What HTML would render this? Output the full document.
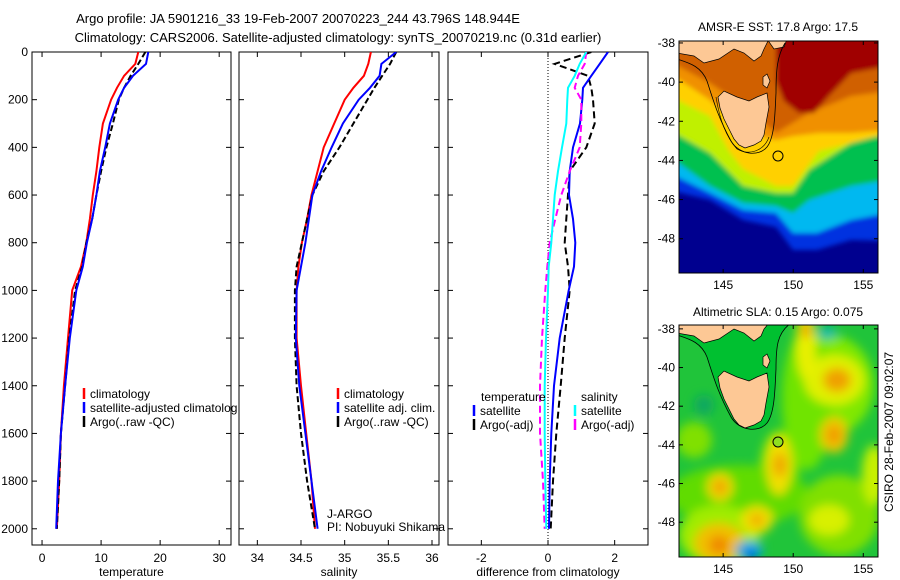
<!DOCTYPE html>
<html><head><meta charset="utf-8">
<style>
html,body{margin:0;padding:0;background:#fff;}
svg{display:block;font-family:"Liberation Sans",sans-serif;}
text{font-size:12px;fill:#000;}
</style></head>
<body>
<svg id="fig" width="900" height="580" viewBox="0 0 900 580" xmlns="http://www.w3.org/2000/svg">
<defs>
  <clipPath id="clip1"><rect x="32" y="52" width="205" height="494"/></clipPath>
  <clipPath id="clipP1"><rect x="32" y="52" width="199" height="493"/></clipPath>
  <clipPath id="clipP2"><rect x="239" y="52" width="200" height="493"/></clipPath>
  <clipPath id="clipP2t"><rect x="239" y="52" width="208" height="493"/></clipPath>
  <clipPath id="clipP3"><rect x="448" y="52" width="200" height="493"/></clipPath>
  <clipPath id="clipM"><rect x="0" y="0" width="199" height="232"/></clipPath>
  <filter id="blur3" x="-10%" y="-10%" width="120%" height="120%"><feGaussianBlur stdDeviation="2.5"/></filter>
  <filter id="blur6" x="-50%" y="-50%" width="200%" height="200%"><feGaussianBlur stdDeviation="5"/></filter>
</defs>

<text x="298" y="23" text-anchor="middle" style="font-size:13px">Argo profile: JA 5901216_33 19-Feb-2007 20070223_244 43.796S 148.944E</text>
<text x="338" y="42" text-anchor="middle" style="font-size:13px">Climatology: CARS2006. Satellite-adjusted climatology: synTS_20070219.nc (0.31d earlier)</text>

<g id="p1"></g>
<g id="p2"></g>
<g id="p3"></g>

<!-- Map 1 : SST -->
<text x="778" y="31" text-anchor="middle">AMSR-E SST: 17.8 Argo: 17.5</text>
<g transform="translate(679,41)">
 <g clip-path="url(#clipM)">
  <rect x="0" y="0" width="199" height="232" fill="#00008f"/>
  <g filter="url(#blur3)">
   <polygon fill="#0030e0" points="-10,-10 210,-10 210,200 172,199 138,209 114,209 97,186 64,179 31,159 -10,149"/>
   <polygon fill="#00b8f0" points="-10,-10 210,-10 210,172 172,179 138,192 114,192 97,172 64,169 31,152 -10,132"/>
   <polygon fill="#00c050" points="-10,-10 210,-10 210,139 172,145 130,159 114,172 97,165 64,162 31,145 -10,115"/>
   <polygon fill="#c0f000" points="-10,-10 210,-10 210,92 172,102 130,129 114,152 97,152 64,145 31,112 -10,89"/>
   <polygon fill="#ffd000" points="-10,-10 210,-10 210,92 172,102 140,110 114,145 97,145 64,128 50,110 31,75 -10,55"/>
   <polygon fill="#f09000" points="-10,-10 210,-10 210,89 172,92 140,92 114,95 97,99 64,90 31,59 -10,32"/>
   <polygon fill="#d06000" points="-10,-10 210,-10 210,50 172,55 130,72 97,92 64,65 31,42 -10,20"/>
   <polygon fill="#a00000" points="97,-10 210,-10 210,25 172,32 150,55 135,72 120,72 105,60 97,40"/>
  </g>
  <polygon fill="#fdc895" stroke="#000" stroke-width="0.7" points="-2,-2 -2,12 15,15 25,22 40,18 55,8 65,12 75,20 82,15 85,8 90,-2"/>
  <polygon fill="#fdc895" stroke="#000" stroke-width="0.7" points="88,-2 108,-2 105,6 95,8"/>
  <polygon fill="#fdc895" stroke="#000" stroke-width="0.7" points="39,56 45,50 58,56 70,60 78,56 88,52 90,66 87,82 85,94 82,100 75,104 66,107 60,104 55,98 50,88 45,78 41,67"/>
  <polygon fill="#fdc895" stroke="#000" stroke-width="0.7" points="84,36 88,33 91,40 88,47 84,44"/>
  <path d="M-2,18 C10,22 22,25 28,40 C35,62 40,78 52,100 C60,114 80,116 88,106 C96,96 96,70 97,52 C97,30 98,15 106,2" fill="none" stroke="#000" stroke-width="0.8"/>
  <path d="M37,56 C40,75 46,95 58,108 C70,115 85,110 90,96" fill="none" stroke="#000" stroke-width="0.6"/>
  <circle cx="99" cy="115" r="5" fill="none" stroke="#000" stroke-width="1"/>
 </g>
 <rect x="0" y="0" width="199" height="232" fill="none" stroke="#000" stroke-width="1"/>
 <g id="m1ticks"></g>
</g>

<!-- Map 2 : SLA -->
<text x="778" y="316" text-anchor="middle">Altimetric SLA: 0.15 Argo: 0.075</text>
<g transform="translate(679,325)">
 <g clip-path="url(#clipM)">
  <rect x="0" y="0" width="199" height="232" fill="#20c43a"/>
  <g filter="url(#blur6)">
   <ellipse cx="150" cy="60" rx="45" ry="50" fill="#80e800"/>
   <ellipse cx="128" cy="75" rx="25" ry="70" fill="#70e400"/>
   <ellipse cx="100" cy="150" rx="20" ry="45" fill="#80e400"/>
   <ellipse cx="60" cy="170" rx="70" ry="30" fill="#60dc00"/>
   <ellipse cx="40" cy="210" rx="40" ry="30" fill="#a0ec00"/>
   <ellipse cx="160" cy="190" rx="40" ry="40" fill="#80e000"/>
   <ellipse cx="15" cy="115" rx="18" ry="18" fill="#80e000"/>
   <ellipse cx="195" cy="150" rx="12" ry="30" fill="#c8f000"/>
   <ellipse cx="155" cy="55" rx="30" ry="25" fill="#e0f000"/>
   <ellipse cx="158" cy="55" rx="14" ry="12" fill="#f0a000"/>
   <ellipse cx="155" cy="110" rx="14" ry="18" fill="#f0c800"/>
   <ellipse cx="155" cy="110" rx="7" ry="9" fill="#f09800"/>
   <ellipse cx="100" cy="140" rx="13" ry="30" fill="#f0e000"/>
   <ellipse cx="101" cy="140" rx="7" ry="12" fill="#f0a800"/>
   <ellipse cx="127" cy="20" rx="10" ry="35" fill="#e8f000"/>
   <ellipse cx="127" cy="5" rx="6" ry="8" fill="#f0a800"/>
   <ellipse cx="41" cy="162" rx="13" ry="14" fill="#f0d800"/>
   <ellipse cx="41" cy="162" rx="6" ry="7" fill="#f09800"/>
   <ellipse cx="78" cy="195" rx="16" ry="14" fill="#f0e000"/>
   <ellipse cx="78" cy="195" rx="7" ry="6" fill="#f0a800"/>
   <ellipse cx="40" cy="218" rx="25" ry="20" fill="#f0c000"/>
   <ellipse cx="40" cy="220" rx="10" ry="9" fill="#f08800"/>
   <ellipse cx="150" cy="195" rx="20" ry="15" fill="#d8f000"/>
   <ellipse cx="70" cy="225" rx="14" ry="9" fill="#00a8e0"/>
   <ellipse cx="72" cy="230" rx="6" ry="5" fill="#0050f0"/>
   <ellipse cx="148" cy="8" rx="10" ry="6" fill="#00b8b0"/>
   <ellipse cx="25" cy="80" rx="10" ry="10" fill="#10a860"/>
  </g>
  <polygon fill="#00c030" points="-2,10 30,15 50,30 60,60 80,70 90,60 95,40 100,10 112,-2 -2,-2"/>
  <path d="M-2,10 C10,14 22,17 28,32 C35,54 40,70 52,92 C60,106 80,108 88,98 C96,88 96,62 97,44 C97,22 98,8 112,-2" fill="#00c030" stroke="#000" stroke-width="0.8"/>
  <polygon fill="#fdc895" stroke="#000" stroke-width="0.7" points="-2,-2 -2,8 15,11 25,18 40,14 55,4 65,8 75,16 82,11 85,4 90,-2"/>
  <polygon fill="#fdc895" stroke="#000" stroke-width="0.7" points="39,52 45,46 58,52 70,56 78,52 88,48 90,62 87,78 85,90 82,96 75,100 66,103 60,100 55,94 50,84 45,74 41,63"/>
  <polygon fill="#fdc895" stroke="#000" stroke-width="0.7" points="84,32 88,29 91,36 88,43 84,40"/>
  <circle cx="99" cy="117" r="5" fill="#90e020" stroke="#000" stroke-width="1"/>
 </g>
 <rect x="0" y="0" width="199" height="232" fill="none" stroke="#000" stroke-width="1"/>
 <g id="m2ticks"></g>
</g>
<text transform="translate(893,432) rotate(-90)" text-anchor="middle">CSIRO 28-Feb-2007 09:02:07</text>

<script>
// ---- data ----
const depths = [0,50,100,150,200,300,400,500,600,700,800,900,1000,1200,1400,1600,1800,2000];
const tempClim = [16.3,15.8,13.9,12.7,11.7,10.3,9.7,9.2,8.6,8.1,7.5,6.6,5.1,4.4,3.7,3.2,2.9,2.5];
const tempSat  = [18.0,17.6,15.4,13.9,12.9,11.5,10.7,9.8,9.2,8.5,7.6,6.9,5.8,4.7,3.9,3.2,2.7,2.4];
const tempArgo = [17.5,16.3,15.0,13.9,13.0,12.0,10.9,10.0,9.2,8.5,7.5,6.8,5.6,4.6,3.9,3.2,2.9,2.5];
const salClim = [35.30,35.27,35.22,35.10,35.00,34.88,34.76,34.69,34.62,34.57,34.51,34.47,34.45,34.45,34.50,34.56,34.62,34.66];
const salSat  = [35.59,35.42,35.40,35.29,35.16,34.98,34.85,34.73,34.63,34.59,34.55,34.50,34.45,34.44,34.48,34.55,34.62,34.69];
const salArgo = [35.59,35.52,35.43,35.34,35.26,35.10,34.94,34.76,34.63,34.57,34.51,34.45,34.43,34.43,34.45,34.50,34.57,34.66];
const diffTempSat  = [1.8,1.55,1.3,1.05,1.03,0.96,0.75,0.65,0.63,0.75,0.82,0.78,0.62,0.35,0.18,0.1,0.05,0.03];
const diffTempArgo = [1.3,0.2,1.2,1.3,1.35,1.4,1.15,0.65,0.6,0.55,0.5,0.6,0.65,0.5,0.38,0.25,0.15,0.08];
const diffSalSat   = [1.15,0.95,0.8,0.6,0.58,0.55,0.42,0.3,0.2,0.15,0.1,0.02,0,-0.06,-0.1,-0.1,-0.08,-0.05];
const diffSalArgo  = [1.15,1.1,0.9,0.8,1.0,1.0,0.95,0.65,0.4,0.22,0.05,-0.02,-0.08,-0.18,-0.24,-0.24,-0.15,-0.1];
const depthTicks = [0,200,400,600,800,1000,1200,1400,1600,1800,2000];
const tempTicks = [0,10,20,30];
const salTicks = [34,34.5,35,35.5,36];
const diffTicks = [-2,0,2];
const lonTicks = [145,150,155];
const latTicks = [-38,-40,-42,-44,-46,-48];

const NS = "http://www.w3.org/2000/svg";
function mk(tag, attrs, parent){const e=document.createElementNS(NS,tag);for(const k in attrs)e.setAttribute(k,attrs[k]);parent.appendChild(e);return e;}
const Y0=52, Y1=545, DMAX=2068;
function yDepth(d){return Y0 + d*(Y1-Y0)/DMAX;}

function panel(g, x0, x1, xmin, xmax, xticks, xlabel, showY){
  const sx = v => x0 + (v-xmin)*(x1-x0)/(xmax-xmin);
  const ax = mk('rect',{x:x0,y:Y0,width:x1-x0,height:Y1-Y0,fill:'#fff',stroke:'#000','stroke-width':1},g);
  
  
  xticks.forEach(t=>{
    const x=sx(t);
    mk('line',{x1:x,y1:Y1,x2:x,y2:Y1-5,stroke:'#000'},g);
    mk('line',{x1:x,y1:Y0,x2:x,y2:Y0+5,stroke:'#000'},g);
    const tx=mk('text',{x:x,y:Y1+17,'text-anchor':'middle'},g);
    tx.textContent=String(t);
    
    
  });
  depthTicks.forEach(d=>{
    const y=yDepth(d);
    mk('line',{x1:x0,y1:y,x2:x0+5,y2:y,stroke:'#000'},g);
    mk('line',{x1:x1,y1:y,x2:x1-5,y2:y,stroke:'#000'},g);
    if(showY){
      const tx=mk('text',{x:x0-4,y:y+4,'text-anchor':'end'},g);
      tx.textContent=String(d);
      
      
    }
  });
  const xl=mk('text',{x:(x0+x1)/2,y:576,'text-anchor':'middle'},g);
  xl.textContent=xlabel;
  
  
  return sx;
}
function series(g, sx, vals, color, dash, name, clip){
  const pts = vals.map((v,i)=>sx(v).toFixed(1)+','+yDepth(depths[i]).toFixed(1)).join(' ');
  const p = mk('polyline',{points:pts,fill:'none',stroke:color,'stroke-width':2,'clip-path':clip},g);
  if(dash) p.setAttribute('stroke-dasharray',dash);
  
  
}
function legend(g, x, y, color, label, name, clip){
  mk('line',{x1:x,y1:y-10,x2:x,y2:y+1,stroke:color,'stroke-width':2.5},g);
  const t=mk('text',{x:x+6,y:y,'clip-path':clip||''},g);
  t.textContent=label;
  
  
}

const p1=document.getElementById('p1'), p2=document.getElementById('p2'), p3=document.getElementById('p3');
const sxT = panel(p1,32,231,-1.7,32,tempTicks,'temperature',true);
series(p1,sxT,tempClim,'#f00',null,'temp-climatology-line','url(#clipP1)');
series(p1,sxT,tempArgo,'#000','6,3','temp-argo-line','url(#clipP1)');
series(p1,sxT,tempSat,'#00f',null,'temp-satellite-line','url(#clipP1)');

const sxS = panel(p2,239,439,33.79,36.08,salTicks,'salinity',false);
series(p2,sxS,salClim,'#f00',null,'sal-climatology-line','url(#clipP2)');
series(p2,sxS,salArgo,'#000','6,3','sal-argo-line','url(#clipP2)');
series(p2,sxS,salSat,'#00f',null,'sal-satellite-line','url(#clipP2)');

// legends panel 1 (drawn before panel 2? panel 2 bg covers overflow, so clip)
legend(p1,84,398,'#f00','climatology','legend-climatology','url(#clip1)');
legend(p1,84,412,'#00f','satellite-adjusted climatology','legend-satellite-adjusted','url(#clip1)');
legend(p1,84,426,'#000','Argo(..raw -QC)','legend-argo-raw','url(#clip1)');

legend(p2,338,398,'#f00','climatology','legend-climatology-sal');
legend(p2,338,412,'#00f','satellite adj. clim.','legend-satellite-adj-sal');
legend(p2,338,426,'#000','Argo(..raw -QC)','legend-argo-raw-sal');
const ja=mk('text',{x:327,y:518},p2); ja.textContent='J-ARGO';


const pi=mk('text',{x:327,y:531,'clip-path':'url(#clipP2t)'},p2); pi.textContent='PI: Nobuyuki Shikama';



const sxD = panel(p3,448,648,-3,3,diffTicks,'difference from climatology',false);
const zl = mk('line',{x1:sxD(0),y1:Y0,x2:sxD(0),y2:Y1,stroke:'#000','stroke-width':1,'stroke-dasharray':'1,2'},p3);


series(p3,sxD,diffTempArgo,'#000','7,4','diff-temp-argo-line','url(#clipP3)');
series(p3,sxD,diffTempSat,'#00f',null,'diff-temp-satellite-line','url(#clipP3)');
series(p3,sxD,diffSalArgo,'#f0f','7,4','diff-sal-argo-line','url(#clipP3)');
series(p3,sxD,diffSalSat,'#0ff',null,'diff-sal-satellite-line','url(#clipP3)');
const lt=mk('text',{x:481,y:401},p3); lt.textContent='temperature';


const ls=mk('text',{x:581,y:401},p3); ls.textContent='salinity';


legend(p3,474,415,'#00f','satellite','legend-temp-satellite');
legend(p3,474,429,'#000','Argo(-adj)','legend-temp-argo');
legend(p3,575,415,'#0ff','satellite','legend-sal-satellite');
legend(p3,575,429,'#f0f','Argo(-adj)','legend-sal-argo');

// map ticks
function mapTicks(id, latTop, latBot){
  const g=document.getElementById(id);
  const sx=lon=>(lon-141.85)*199/(156.05-141.85);
  const sy=lat=>(latTop-lat)*232/(latTop-latBot);
  lonTicks.forEach(l=>{
    const x=sx(l);
    mk('line',{x1:x,y1:232,x2:x,y2:228,stroke:'#000'},g);
    mk('line',{x1:x,y1:0,x2:x,y2:4,stroke:'#000'},g);
    const t=mk('text',{x:x,y:248,'text-anchor':'middle'},g); t.textContent=String(l);
    
    
  });
  latTicks.forEach(l=>{
    const y=sy(l);
    mk('line',{x1:0,y1:y,x2:4,y2:y,stroke:'#000'},g);
    mk('line',{x1:199,y1:y,x2:195,y2:y,stroke:'#000'},g);
    const t=mk('text',{x:-4,y:y+4,'text-anchor':'end'},g); t.textContent=String(l);
    
    
  });
}
mapTicks('m1ticks',-37.9,-49.75);
mapTicks('m2ticks',-37.8,-49.8);
</script>
</svg>
</body></html>
